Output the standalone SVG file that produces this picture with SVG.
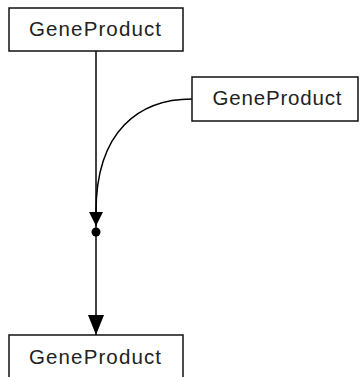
<svg xmlns="http://www.w3.org/2000/svg" width="362" height="377" viewBox="0 0 362 377">
<defs>
<style>
.box{fill:#fff;stroke:#111;stroke-width:1.5}
.lbl{font-family:"Liberation Sans",Arial,sans-serif;font-size:20.5px;fill:#222;text-anchor:middle}
.edge{fill:none;stroke:#000;stroke-width:1.5}
</style>
<marker id="arr" viewBox="0 0 20 16" refX="20" refY="8" markerWidth="20" markerHeight="16" markerUnits="userSpaceOnUse" orient="auto">
<path d="M0,0 L20,8 L0,16 Z" fill="#000"/>
</marker>
<marker id="arr2" viewBox="0 0 14 14" refX="14" refY="7" markerWidth="14" markerHeight="14" markerUnits="userSpaceOnUse" orient="auto">
<path d="M0,0 L14,7 L0,14 Z" fill="#000"/>
</marker>
</defs>
<rect width="362" height="377" fill="#fff"/>
<g id="connectors">
<path class="edge" d="M96,51 L96,335" marker-end="url(#arr)"/>
<path class="edge" d="M192,99 C140,99 96,130 96,212 L96,226" marker-end="url(#arr2)"/>
<circle cx="96" cy="232" r="4.5" fill="#000"/>
</g>
<g id="node-top">
<rect class="box" x="9" y="8" width="174" height="43"/>
<text class="lbl" x="95" y="36" textLength="132" lengthAdjust="spacing">GeneProduct</text>
</g>
<g id="node-right">
<rect class="box" x="192" y="77" width="166" height="44"/>
<text class="lbl" x="277" y="105" textLength="129" lengthAdjust="spacing">GeneProduct</text>
</g>
<g id="node-bottom">
<rect class="box" x="9" y="335" width="174" height="44"/>
<text class="lbl" x="95" y="364" textLength="132" lengthAdjust="spacing">GeneProduct</text>
</g>
</svg>
